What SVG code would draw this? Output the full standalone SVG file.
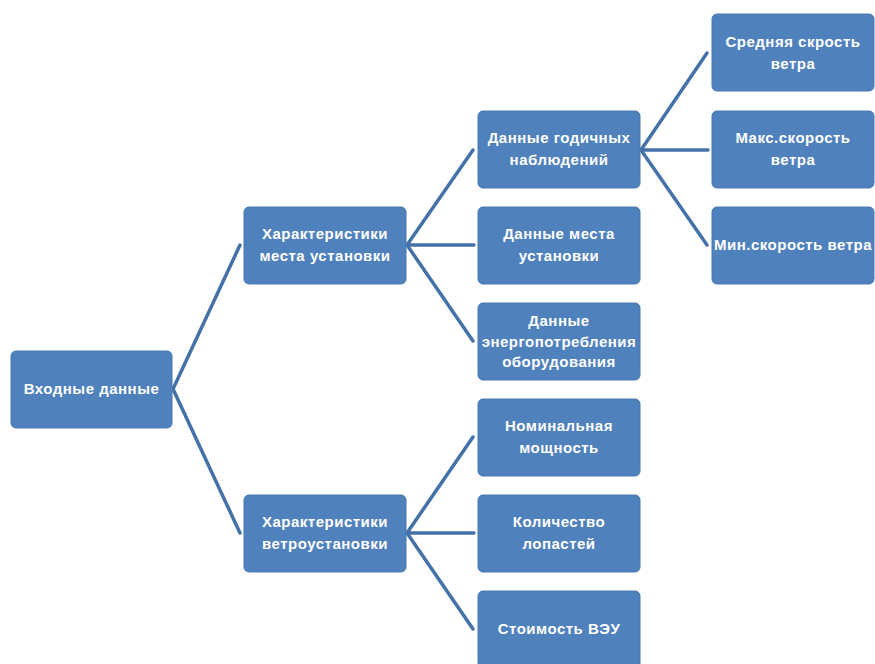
<svg xmlns="http://www.w3.org/2000/svg" width="875" height="664" viewBox="0 0 875 664">
<style>
.box{fill:#4F81BD;stroke:#4A78B0;stroke-width:1}
.t{font-family:"Liberation Sans",Arial,sans-serif;font-weight:bold;font-size:15px;letter-spacing:0.5px;fill:#FFFFFF;text-anchor:middle}
.c{stroke:#4472A8;stroke-width:3.5;fill:none;stroke-linecap:round}
</style>
<rect width="875" height="664" fill="#FFFFFF"/>
<g id="connectors">
<line class="c" x1="173" y1="389" x2="240" y2="245"/>
<line class="c" x1="173" y1="389" x2="240" y2="533"/>
<line class="c" x1="407" y1="245" x2="473" y2="150"/>
<line class="c" x1="407" y1="245" x2="474" y2="245"/>
<line class="c" x1="407" y1="245" x2="473" y2="341"/>
<line class="c" x1="407" y1="533" x2="473" y2="437"/>
<line class="c" x1="407" y1="533" x2="474" y2="533"/>
<line class="c" x1="407" y1="533" x2="473" y2="629"/>
<line class="c" x1="641" y1="150" x2="707" y2="53"/>
<line class="c" x1="641" y1="150" x2="708" y2="150"/>
<line class="c" x1="641" y1="150" x2="707" y2="245"/>
</g>
<g id="n-input"><rect class="box" x="11" y="351" width="161" height="77" rx="5"/><text class="t" x="91.5" y="394">Входные данные</text></g>
<g id="n-site"><rect class="box" x="244" y="207" width="162" height="77" rx="5"/><text class="t" x="325" y="239">Характеристики</text><text class="t" x="325" y="261">места установки</text></g>
<g id="n-wind"><rect class="box" x="244" y="495" width="162" height="77" rx="5"/><text class="t" x="325" y="527">Характеристики</text><text class="t" x="325" y="549">ветроустановки</text></g>
<g id="n-annual"><rect class="box" x="478" y="111" width="162" height="77" rx="5"/><text class="t" x="559" y="143">Данные годичных</text><text class="t" x="559" y="165">наблюдений</text></g>
<g id="n-sitedata"><rect class="box" x="478" y="207" width="162" height="77" rx="5"/><text class="t" x="559" y="239">Данные места</text><text class="t" x="559" y="261">установки</text></g>
<g id="n-energy"><rect class="box" x="478" y="303" width="162" height="77" rx="5"/><text class="t" x="559" y="326">Данные</text><text class="t" x="559" y="347">энергопотребления</text><text class="t" x="559" y="367">оборудования</text></g>
<g id="n-power"><rect class="box" x="478" y="399" width="162" height="77" rx="5"/><text class="t" x="559" y="431">Номинальная</text><text class="t" x="559" y="453">мощность</text></g>
<g id="n-blades"><rect class="box" x="478" y="495" width="162" height="77" rx="5"/><text class="t" x="559" y="527">Количество</text><text class="t" x="559" y="549">лопастей</text></g>
<g id="n-cost"><rect class="box" x="478" y="591" width="162" height="77" rx="5"/><text class="t" x="559" y="634">Стоимость ВЭУ</text></g>
<g id="n-avg"><rect class="box" x="712" y="14" width="162" height="77" rx="5"/><text class="t" x="793" y="47">Средняя скрость</text><text class="t" x="793" y="69">ветра</text></g>
<g id="n-max"><rect class="box" x="712" y="111" width="162" height="77" rx="5"/><text class="t" x="793" y="143">Макс.скорость</text><text class="t" x="793" y="165">ветра</text></g>
<g id="n-min"><rect class="box" x="712" y="207" width="162" height="77" rx="5"/><text class="t" x="793" y="250">Мин.скорость ветра</text></g>
</svg>
